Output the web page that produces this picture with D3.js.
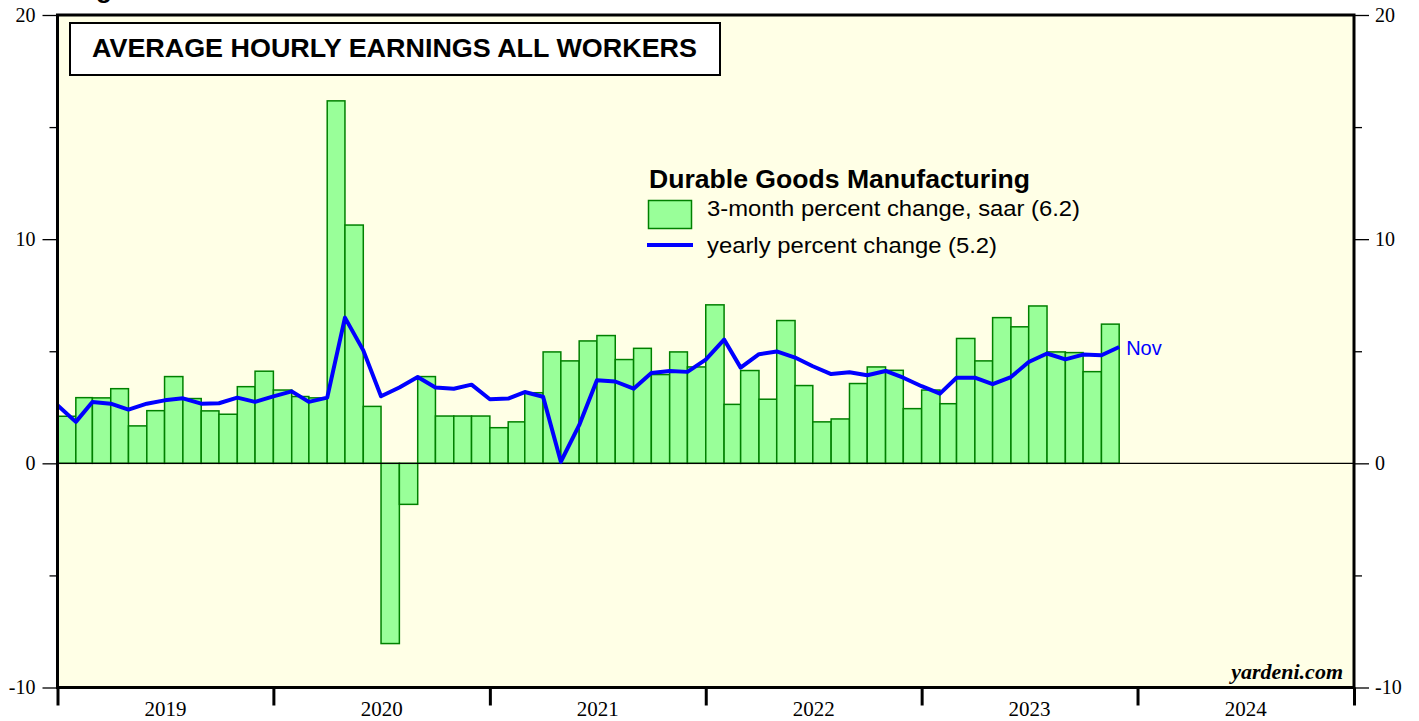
<!DOCTYPE html>
<html>
<head>
<meta charset="utf-8">
<script src="https://cdn.jsdelivr.net/npm/d3@7"></script>
<style>
  html, body { margin: 0; padding: 0; background: #ffffff; }
  svg { display: block; }
</style>
</head>
<body>
<svg id="chart" width="1419" height="721"></svg>
<script>
// ---------- DATA ----------
const barMonths = [
  "2019-01","2019-02","2019-03","2019-04","2019-05","2019-06","2019-07","2019-08","2019-09","2019-10","2019-11","2019-12",
  "2020-01","2020-02","2020-03","2020-04","2020-05","2020-06","2020-07","2020-08","2020-09","2020-10","2020-11","2020-12",
  "2021-01","2021-02","2021-03","2021-04","2021-05","2021-06","2021-07","2021-08","2021-09","2021-10","2021-11","2021-12",
  "2022-01","2022-02","2022-03","2022-04","2022-05","2022-06","2022-07","2022-08","2022-09","2022-10","2022-11","2022-12",
  "2023-01","2023-02","2023-03","2023-04","2023-05","2023-06","2023-07","2023-08","2023-09","2023-10","2023-11"
];
// 3-month percent change, saar
const threeMonthSaar = [
  2.10, 2.93, 2.92, 3.33, 1.67, 2.35, 3.87, 2.89, 2.34, 2.19, 3.42, 4.11,
  3.27, 2.98, 2.92, 16.17, 10.63, 2.54, -8.04, -1.83, 3.87, 2.11, 2.11, 2.11,
  1.59, 1.85, 3.15, 4.97, 4.57, 5.46, 5.70, 4.63, 5.13, 3.96, 4.97, 4.30,
  7.07, 2.63, 4.14, 2.86, 6.37, 3.47, 1.85, 1.98, 3.56, 4.30, 4.15, 2.44,
  3.27, 2.66, 5.57, 4.57, 6.50, 6.09, 7.02, 4.97, 4.94, 4.09, 6.21
];
const lineMonths = ["2018-12"].concat(barMonths);
// yearly percent change
const yearlyChange = [
  2.59,
  1.85, 2.74, 2.66, 2.40, 2.66, 2.81, 2.90, 2.66, 2.68, 2.93, 2.74, 2.99,
  3.21, 2.74, 2.93, 6.50, 5.04, 2.99, 3.38, 3.85, 3.38, 3.33, 3.51, 2.86,
  2.89, 3.18, 2.97, 0.07, 1.70, 3.71, 3.65, 3.33, 4.03, 4.12, 4.08, 4.63,
  5.52, 4.27, 4.87, 4.99, 4.72, 4.33, 3.98, 4.06, 3.93, 4.12, 3.82, 3.44,
  3.11, 3.82, 3.82, 3.53, 3.85, 4.52, 4.90, 4.64, 4.85, 4.82, 5.19
];
const yearLabels = ["2019","2020","2021","2022","2023","2024"];
const yMajorTicks = [-10, 0, 10, 20];
const yMinorTicks = [-5, 5, 15];

const titleText = "AVERAGE HOURLY EARNINGS ALL WORKERS";
const legendTitle = "Durable Goods Manufacturing";
const legendBarLabel = "3-month percent change, saar (6.2)";
const legendLineLabel = "yearly percent change (5.2)";
const lastLabel = "Nov";
const sourceLabel = "yardeni.com";

// ---------- SETUP ----------
const svg = d3.select("#chart");
const parseMonth = d3.utcParse("%Y-%m");
const L = 57.5, R = 1354, T = 15, B = 687.5;

const x = d3.scaleUtc()
  .domain([Date.UTC(2019, 0, 1), Date.UTC(2025, 0, 1)])
  .range([L, R]);
const y = d3.scaleLinear().domain([-10, 20]).range([B, T]);

const serif = "'Liberation Serif', 'Times New Roman', serif";
const sans = "'Liberation Sans', Arial, Helvetica, sans-serif";

// cut-off heading at top (only descender visible, as in the reference)
svg.append("text").attr("x", 73).attr("y", -2)
  .attr("font-family", sans).attr("font-weight", "bold").attr("font-size", 26)
  .text("Figure");

// plot background
svg.append("rect").attr("x", L).attr("y", T).attr("width", R - L).attr("height", B - T)
  .attr("fill", "#ffffe6");

svg.append("clipPath").attr("id", "plotclip")
  .append("rect").attr("x", L).attr("y", T).attr("width", R - L).attr("height", B - T);

const plot = svg.append("g").attr("clip-path", "url(#plotclip)");

// bars
const barData = barMonths.map((m, i) => ({ d: parseMonth(m), v: threeMonthSaar[i] }));
plot.selectAll("rect.bar").data(barData).enter().append("rect")
  .attr("class", "bar")
  .attr("x", d => x(d.d))
  .attr("width", d => x(d3.utcMonth.offset(d.d, 1)) - x(d.d))
  .attr("y", d => y(Math.max(0, d.v)))
  .attr("height", d => Math.abs(y(d.v) - y(0)))
  .attr("fill", "#99ff99")
  .attr("stroke", "#008000")
  .attr("stroke-width", 1.5);

// zero line
plot.append("line").attr("x1", L).attr("x2", R).attr("y1", y(0)).attr("y2", y(0))
  .attr("stroke", "#000").attr("stroke-width", 1.2);

// yearly line (points at end of each month)
const lineData = lineMonths.map((m, i) => ({ d: d3.utcMonth.offset(parseMonth(m), 1), v: yearlyChange[i] }));
plot.append("path").datum(lineData)
  .attr("fill", "none").attr("stroke", "#0000ff").attr("stroke-width", 4)
  .attr("stroke-linejoin", "round")
  .attr("d", d3.line().x(d => x(d.d)).y(d => y(d.v)));

const last = lineData[lineData.length - 1];
svg.append("text").attr("x", x(last.d) + 7).attr("y", y(last.v) + 8)
  .attr("font-family", sans).attr("font-size", 20).attr("fill", "#0000ff")
  .text(lastLabel);

// frame
svg.append("rect").attr("x", L).attr("y", T).attr("width", R - L).attr("height", B - T)
  .attr("fill", "none").attr("stroke", "#000").attr("stroke-width", 3);

// axis label format with plain hyphen for negatives
const fmt = d => String(d);

// left axis
const leftAxis = d3.axisLeft(y).tickValues(yMajorTicks).tickSize(15).tickPadding(6).tickFormat(fmt);
const gl = svg.append("g").attr("transform", `translate(${L},0)`).call(leftAxis);
const leftMinor = d3.axisLeft(y).tickValues(yMinorTicks).tickSize(8).tickFormat("");
const glm = svg.append("g").attr("transform", `translate(${L},0)`).call(leftMinor);
// right axis
const rightAxis = d3.axisRight(y).tickValues(yMajorTicks).tickSize(15).tickPadding(6).tickFormat(fmt);
const gr = svg.append("g").attr("transform", `translate(${R},0)`).call(rightAxis);
const rightMinor = d3.axisRight(y).tickValues(yMinorTicks).tickSize(8).tickFormat("");
const grm = svg.append("g").attr("transform", `translate(${R},0)`).call(rightMinor);

[gl, glm, gr, grm].forEach(g => {
  g.select(".domain").remove();
  g.selectAll(".tick line").attr("stroke", "#000").attr("stroke-width", 1.3);
  g.selectAll(".tick text").attr("font-family", serif).attr("font-size", 20).attr("fill", "#000");
});
gl.selectAll(".tick text").attr("x", -22);

// bottom axis: year boundary ticks + centered labels
const yearStarts = d3.utcYear.range(Date.UTC(2019, 0, 1), Date.UTC(2025, 0, 2));
const bottomAxis = d3.axisBottom(x).tickValues(yearStarts).tickSize(18).tickFormat("");
const gb = svg.append("g").attr("transform", `translate(0,${B})`).call(bottomAxis);
gb.select(".domain").remove();
gb.selectAll(".tick line").attr("stroke", "#000").attr("stroke-width", 3);

svg.append("g").selectAll("text").data(yearLabels).enter().append("text")
  .attr("x", d => (x(Date.UTC(+d, 0, 1)) + x(Date.UTC(+d + 1, 0, 1))) / 2)
  .attr("y", 716)
  .attr("text-anchor", "middle")
  .attr("font-family", serif).attr("font-size", 21).attr("fill", "#000")
  .text(d => d);

// title box
svg.append("rect").attr("x", 70).attr("y", 23).attr("width", 650).attr("height", 52)
  .attr("fill", "#ffffff").attr("stroke", "#000").attr("stroke-width", 2);
svg.append("text").attr("x", 92).attr("y", 57)
  .attr("font-family", sans).attr("font-weight", "bold").attr("font-size", 26).attr("fill", "#000")
  .attr("textLength", 605).attr("lengthAdjust", "spacingAndGlyphs")
  .text(titleText);

// legend
svg.append("text").attr("x", 649).attr("y", 188)
  .attr("font-family", sans).attr("font-weight", "bold").attr("font-size", 26).attr("fill", "#000")
  .attr("textLength", 381).attr("lengthAdjust", "spacingAndGlyphs")
  .text(legendTitle);
svg.append("rect").attr("x", 648.5).attr("y", 200.5).attr("width", 43).attr("height", 28)
  .attr("fill", "#99ff99").attr("stroke", "#008000").attr("stroke-width", 1.5);
svg.append("text").attr("x", 707).attr("y", 216)
  .attr("font-family", sans).attr("font-size", 22).attr("fill", "#000")
  .attr("textLength", 373).attr("lengthAdjust", "spacingAndGlyphs")
  .text(legendBarLabel);
svg.append("line").attr("x1", 647).attr("x2", 693).attr("y1", 245).attr("y2", 245)
  .attr("stroke", "#0000ff").attr("stroke-width", 4);
svg.append("text").attr("x", 707).attr("y", 253)
  .attr("font-family", sans).attr("font-size", 22).attr("fill", "#000")
  .attr("textLength", 290).attr("lengthAdjust", "spacingAndGlyphs")
  .text(legendLineLabel);

// source
svg.append("text").attr("x", 1343).attr("y", 679)
  .attr("text-anchor", "end")
  .attr("font-family", serif).attr("font-weight", "bold").attr("font-style", "italic").attr("font-size", 22).attr("fill", "#000")
  .text(sourceLabel);
</script>
</body>
</html>
